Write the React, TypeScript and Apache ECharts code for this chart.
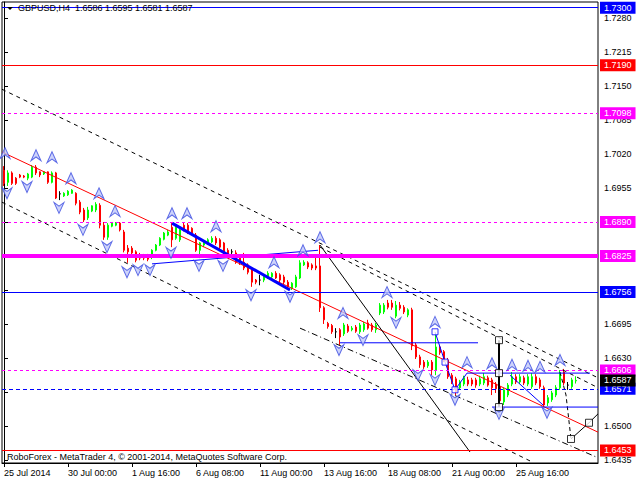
import { useEffect, useRef } from "react";
import * as echarts from "echarts";

// ---------- data ----------
const symbolName = "GBPUSD,H4";
const tickLabels = [
  "25 Jul 2014", "30 Jul 00:00", "1 Aug 16:00", "6 Aug 08:00", "11 Aug 00:00",
  "13 Aug 16:00", "18 Aug 08:00", "21 Aug 00:00", "25 Aug 16:00",
];
const barsPerTick = 16;
const totalSlots = 149;

const opens = [
  1.6989, 1.6966, 1.6984, 1.6974, 1.6980, 1.6978, 1.6974, 1.6976, 1.6995, 1.6986,
  1.6982, 1.6986, 1.6966, 1.6984, 1.6944, 1.6940, 1.6942, 1.6945, 1.6945, 1.6928,
  1.6913, 1.6898, 1.6911, 1.6913, 1.6922, 1.6884, 1.6861, 1.6882, 1.6884, 1.6888,
  1.6871, 1.6840, 1.6840, 1.6833, 1.6827, 1.6827, 1.6827, 1.6823, 1.6836, 1.6846,
  1.6857, 1.6865, 1.6880, 1.6859, 1.6856, 1.6884, 1.6884, 1.6878, 1.6865, 1.6836,
  1.6846, 1.6850, 1.6852, 1.6859, 1.6856, 1.6850, 1.6836, 1.6833, 1.6831, 1.6821,
  1.6813, 1.6808, 1.6802, 1.6779, 1.6779, 1.6779, 1.6783, 1.6785, 1.6792, 1.6789,
  1.6785, 1.6775, 1.6764, 1.6766, 1.6783, 1.6808, 1.6812, 1.6808, 1.6806, 1.6806,
  1.6726, 1.6696, 1.6692, 1.6680, 1.6684, 1.6676, 1.6691, 1.6684, 1.6689, 1.6680,
  1.6684, 1.6697, 1.6693, 1.6684, 1.6716, 1.6718, 1.6735, 1.6735, 1.6710, 1.6731,
  1.6727, 1.6712, 1.6722, 1.6655, 1.6632, 1.6622, 1.6615, 1.6622, 1.6607, 1.6651,
  1.6642, 1.6626, 1.6597, 1.6590, 1.6573, 1.6580, 1.6588, 1.6588, 1.6588, 1.6580,
  1.6582, 1.6592, 1.6588, 1.6580, 1.6575, 1.6546, 1.6559, 1.6580, 1.6594, 1.6584,
  1.6592, 1.6580, 1.6575, 1.6594, 1.6588, 1.6573, 1.6544, 1.6550, 1.6559, 1.6573,
  1.6603, 1.6578, 1.6575, 1.6586,
];
const closes = [
  1.6964, 1.6984, 1.6964, 1.6964, 1.6976, 1.6976, 1.6982, 1.6995, 1.6984, 1.6980,
  1.6986, 1.6966, 1.6984, 1.6936, 1.6944, 1.6945, 1.6949, 1.6951, 1.6926, 1.6909,
  1.6894, 1.6913, 1.6921, 1.6924, 1.6884, 1.6861, 1.6884, 1.6888, 1.6888, 1.6875,
  1.6836, 1.6833, 1.6831, 1.6817, 1.6821, 1.6821, 1.6819, 1.6836, 1.6846, 1.6859,
  1.6869, 1.6871, 1.6856, 1.6880, 1.6875, 1.6875, 1.6871, 1.6869, 1.6836, 1.6850,
  1.6852, 1.6856, 1.6859, 1.6850, 1.6842, 1.6833, 1.6829, 1.6833, 1.6813, 1.6813,
  1.6802, 1.6794, 1.6775, 1.6775, 1.6779, 1.6785, 1.6792, 1.6792, 1.6783, 1.6779,
  1.6775, 1.6766, 1.6773, 1.6785, 1.6812, 1.6813, 1.6804, 1.6802, 1.6802, 1.6726,
  1.6703, 1.6690, 1.6680, 1.6680, 1.6670, 1.6693, 1.6681, 1.6687, 1.6681, 1.6693,
  1.6695, 1.6687, 1.6684, 1.6693, 1.6731, 1.6731, 1.6727, 1.6727, 1.6731, 1.6725,
  1.6718, 1.6722, 1.6653, 1.6632, 1.6617, 1.6613, 1.6622, 1.6607, 1.6651, 1.6640,
  1.6626, 1.6594, 1.6584, 1.6565, 1.6584, 1.6592, 1.6580, 1.6580, 1.6578, 1.6590,
  1.6594, 1.6578, 1.6573, 1.6571, 1.6548, 1.6569, 1.6578, 1.6594, 1.6584, 1.6594,
  1.6582, 1.6594, 1.6594, 1.6582, 1.6575, 1.6540, 1.6554, 1.6563, 1.6573, 1.6601,
  1.6582, 1.6578, 1.6588, 1.6587,
];
const lows = [
  1.6959, 1.6959, 1.6961, 1.6961, 1.6974, 1.6974, 1.6970, 1.6974, 1.6980, 1.6976,
  1.6980, 1.6963, 1.6964, 1.6934, 1.6932, 1.6938, 1.6940, 1.6944, 1.6922, 1.6905,
  1.6890, 1.6894, 1.6909, 1.6909, 1.6878, 1.6856, 1.6856, 1.6880, 1.6882, 1.6872,
  1.6832, 1.6812, 1.6827, 1.6813, 1.6817, 1.6817, 1.6815, 1.6819, 1.6834, 1.6844,
  1.6855, 1.6863, 1.6842, 1.6856, 1.6852, 1.6872, 1.6867, 1.6865, 1.6833, 1.6821,
  1.6842, 1.6846, 1.6850, 1.6846, 1.6838, 1.6829, 1.6825, 1.6827, 1.6810, 1.6808,
  1.6798, 1.6790, 1.6766, 1.6771, 1.6769, 1.6775, 1.6781, 1.6783, 1.6781, 1.6775,
  1.6771, 1.6762, 1.6760, 1.6764, 1.6781, 1.6806, 1.6800, 1.6798, 1.6798, 1.6718,
  1.6695, 1.6686, 1.6676, 1.6668, 1.6655, 1.6672, 1.6678, 1.6681, 1.6678, 1.6676,
  1.6680, 1.6684, 1.6680, 1.6678, 1.6712, 1.6714, 1.6723, 1.6722, 1.6706, 1.6721,
  1.6714, 1.6708, 1.6645, 1.6628, 1.6611, 1.6609, 1.6611, 1.6597, 1.6597, 1.6636,
  1.6622, 1.6590, 1.6580, 1.6559, 1.6569, 1.6576, 1.6576, 1.6576, 1.6573, 1.6576,
  1.6578, 1.6575, 1.6559, 1.6563, 1.6538, 1.6540, 1.6555, 1.6576, 1.6580, 1.6580,
  1.6578, 1.6576, 1.6571, 1.6578, 1.6571, 1.6536, 1.6538, 1.6546, 1.6555, 1.6569,
  1.6578, 1.6569, 1.6571, 1.6581,
];
const highs = [
  1.6997, 1.6989, 1.6987, 1.6976, 1.6982, 1.6980, 1.6984, 1.6999, 1.6999, 1.6987,
  1.6987, 1.6987, 1.6987, 1.6986, 1.6949, 1.6947, 1.6951, 1.6953, 1.6947, 1.6932,
  1.6917, 1.6919, 1.6922, 1.6928, 1.6926, 1.6890, 1.6888, 1.6890, 1.6890, 1.6890,
  1.6875, 1.6846, 1.6844, 1.6836, 1.6831, 1.6829, 1.6829, 1.6838, 1.6848, 1.6861,
  1.6871, 1.6875, 1.6888, 1.6886, 1.6878, 1.6890, 1.6888, 1.6880, 1.6869, 1.6852,
  1.6855, 1.6859, 1.6863, 1.6863, 1.6859, 1.6852, 1.6840, 1.6838, 1.6836, 1.6827,
  1.6831, 1.6811, 1.6804, 1.6781, 1.6789, 1.6788, 1.6796, 1.6794, 1.6796, 1.6792,
  1.6789, 1.6779, 1.6775, 1.6789, 1.6817, 1.6817, 1.6815, 1.6811, 1.6827, 1.6846,
  1.6729, 1.6699, 1.6695, 1.6687, 1.6687, 1.6697, 1.6695, 1.6691, 1.6693, 1.6697,
  1.6699, 1.6703, 1.6697, 1.6697, 1.6735, 1.6735, 1.6741, 1.6741, 1.6739, 1.6737,
  1.6731, 1.6725, 1.6726, 1.6659, 1.6636, 1.6626, 1.6626, 1.6626, 1.6678, 1.6655,
  1.6645, 1.6630, 1.6601, 1.6594, 1.6588, 1.6596, 1.6594, 1.6592, 1.6592, 1.6596,
  1.6601, 1.6596, 1.6592, 1.6584, 1.6577, 1.6573, 1.6582, 1.6603, 1.6599, 1.6599,
  1.6596, 1.6599, 1.6601, 1.6599, 1.6592, 1.6577, 1.6559, 1.6567, 1.6578, 1.6607,
  1.6609, 1.6584, 1.6592, 1.6595,
];

// axis ticks every 0.0065; labels only where no price box covers them
const priceTicks = [
  1.6435, 1.6500, 1.6565, 1.6630, 1.6695, 1.6760, 1.6825,
  1.6890, 1.6955, 1.7020, 1.7085, 1.7150, 1.7215, 1.7280,
];
const priceTickLabels = [
  1.6435, 1.6500, 1.6630, 1.6695, 1.6955, 1.7020, 1.7085, 1.7150, 1.7215, 1.7280,
];
const priceMin = 1.6429;
const priceMax = 1.7311;

// horizontal levels (full width)
const levelPrices = [1.7300, 1.7190, 1.7098, 1.6890, 1.6825, 1.6756, 1.6606, 1.6571, 1.6453];
const levelKinds = ["blue", "red", "magentaDash", "magentaDash", "magentaThick", "blue", "magentaDash", "blueDash", "red"];

// trend lines: [barIndex, price]
const redTrend = [[-0.5, 1.7024], [148.5, 1.6488]];
const upperChannel = [[-0.5, 1.7144], [148.5, 1.6592]];
const peakChannel = [[79, 1.6842], [148.5, 1.6573]];
const lowerChannel = [[-0.5, 1.6928], [131.5, 1.6433]];
const dashDotChannel = [[74, 1.6687], [148.5, 1.6439]];
const steepLine = [[79, 1.6846], [116.5, 1.6450]];
const forecastDashed = [[139, 1.6603], [140.5, 1.6559], [141.75, 1.6475]];
const forecastSolid = [[141.75, 1.6475], [146.25, 1.6506], [148.5, 1.6523]];
const measureLine = [[123.75, 1.6664], [123.75, 1.6536]];
const blueSeg1 = [[84, 1.6659], [118.5, 1.6659]];
const rangeTop = [[115.75, 1.6601], [146.5, 1.6601]];
const rangeBottom = [[122, 1.6536], [148.5, 1.6536]];
const blueZig1 = [[107.75, 1.6680], [110.25, 1.6622], [112.75, 1.6569], [115.75, 1.6601]];
const blueZig2 = [[126.5, 1.6597], [134.75, 1.6540]];
const blueThick = [[42, 1.6888], [71.5, 1.6760]];
const blueThin = [[37, 1.6810], [78.5, 1.6836]];

const blueSquares = [[107.75, 1.6680], [110.25, 1.6622], [112.75, 1.6569]];
const blackSquares = [[123.75, 1.6664], [123.75, 1.6601], [123.75, 1.6536], [141.75, 1.6475], [146.25, 1.6506]];

const upFractals = [
  [0.25, 1.7022], [8, 1.7018], [12, 1.7014], [16.75, 1.6974], [23.75, 1.6945],
  [27.75, 1.6911], [42, 1.6907], [45.75, 1.6907], [53, 1.6882], [67.5, 1.6813],
  [74.75, 1.6836], [79, 1.6861], [84.75, 1.6716], [95.75, 1.6756], [107.75, 1.6699],
  [115.75, 1.6622], [122, 1.6620], [127, 1.6617], [131, 1.6615], [134, 1.6613],
  [139, 1.6626],
];
const downFractals = [
  [0.75, 1.6945], [5.75, 1.6957], [13.75, 1.6917], [19.75, 1.6875], [25.75, 1.6842],
  [30.75, 1.6794], [33.5, 1.6798], [36.5, 1.6798], [41.75, 1.6831], [48.75, 1.6806],
  [54.75, 1.6806], [61.75, 1.6750], [71.5, 1.6747], [83.75, 1.6645], [89.75, 1.6664],
  [98, 1.6697], [103.5, 1.6597], [107.75, 1.6588], [112.75, 1.6550], [123.75, 1.6523],
  [135.75, 1.6525],
];

const copyright = "RoboForex - MetaTrader 4, \u00a9 2001-2014, MetaQuotes Software Corp.";

// ---------- styles ----------
const FONT = "'Liberation Sans', Arial, sans-serif";
const FS = 9;
const BLUE = "#0000ff";
const RED = "#ff0000";
const MAGENTA = "#ff00ff";
const BULL = "#00ff00";
const BEAR = "#ff0000";

const kindStyle: Record<string, { color: string; type: any; width: number }> = {
  blue: { color: BLUE, type: "solid", width: 1 },
  red: { color: RED, type: "solid", width: 1 },
  magentaDash: { color: MAGENTA, type: [3, 3], width: 1 },
  magentaThick: { color: MAGENTA, type: "solid", width: 4 },
  blueDash: { color: BLUE, type: [4, 3], width: 1 },
};

function lineSeries(data: number[][], color: string, type: any, width: number, z = 3) {
  return {
    type: "line",
    xAxisIndex: 1,
    yAxisIndex: 0,
    data,
    symbol: "none",
    silent: true,
    clip: true,
    z,
    lineStyle: { color, type, width },
  };
}

export default function App() {
  const ref = useRef<HTMLDivElement>(null);

  useEffect(() => {
    if (!ref.current) return;
    const chart = echarts.init(ref.current, undefined, { renderer: "svg" });

    const slots = Array.from({ length: totalSlots }, (_, i) => String(i));
    const showTick = (idx: number) =>
      idx % barsPerTick === 0 && idx / barsPerTick < tickLabels.length;

    const candleData = opens.map((o, i) => {
      const item: any = { value: [o, closes[i], lows[i], highs[i]] };
      if (o === closes[i]) {
        item.itemStyle = { color: "#000", color0: "#000", borderColor: "#000", borderColor0: "#000" };
      }
      return item;
    });

    const last = opens.length - 1;
    const lastClose = closes[last];
    const titleText = `${symbolName}  ${opens[last].toFixed(4)} ${highs[last].toFixed(4)} ${lows[last].toFixed(4)} ${closes[last].toFixed(4)}`;

    const boxLabel = (bg: string, p: number) => ({
      show: true,
      position: "end",
      distance: 2,
      formatter: p.toFixed(4),
      color: "#fff",
      backgroundColor: bg,
      padding: [2, 4, 1, 4],
      fontSize: FS,
      fontFamily: FONT,
    });

    const markData: any[] = levelPrices.map((p, k) => {
      const st = kindStyle[levelKinds[k]];
      return {
        yAxis: p,
        lineStyle: { color: st.color, type: st.type, width: st.width },
        label: boxLabel(st.color, p),
      };
    });
    markData.push({
      yAxis: lastClose,
      lineStyle: { color: "rgba(0,0,0,0)", width: 0, type: "solid" },
      label: boxLabel("#000", lastClose),
    });

    const option: any = {
      animation: false,
      backgroundColor: "#fff",
      grid: {
        left: 2, right: 42, top: 2, bottom: 17,
        show: true, borderColor: "#000", borderWidth: 1, backgroundColor: "#fff",
      },
      xAxis: [
        {
          type: "category",
          data: slots,
          boundaryGap: true,
          axisLine: { show: true, lineStyle: { color: "#000" } },
          axisTick: {
            show: true, interval: showTick, alignWithLabel: true, length: 4,
            lineStyle: { color: "#000" },
          },
          axisLabel: {
            interval: showTick,
            formatter: (_v: string, idx: number) => tickLabels[idx / barsPerTick] ?? "",
            align: "left",
            margin: 5,
            color: "#000",
            fontSize: FS,
            fontFamily: FONT,
          },
          splitLine: { show: false },
        },
        { type: "value", min: -0.5, max: totalSlots - 0.5, show: false },
      ],
      yAxis: [
        {
          type: "value",
          position: "right",
          min: priceMin,
          max: priceMax,
          splitLine: { show: false },
          axisLine: { show: true, lineStyle: { color: "#000" } },
          axisTick: { show: true, length: 4, customValues: priceTicks, lineStyle: { color: "#000" } },
          axisLabel: {
            customValues: priceTickLabels,
            formatter: (v: number) => v.toFixed(4),
            color: "#000",
            margin: 6,
            fontSize: FS,
            fontFamily: FONT,
          },
        },
      ],
      series: [
        {
          type: "candlestick",
          xAxisIndex: 0,
          yAxisIndex: 0,
          barWidth: 2,
          data: candleData,
          z: 2,
          itemStyle: {
            color: BULL, color0: BEAR, borderColor: BULL, borderColor0: BEAR, borderWidth: 1,
          },
          markLine: {
            silent: true,
            precision: 4,
            symbol: ["none", "none"],
            animation: false,
            data: markData,
          },
        },
        lineSeries(redTrend, RED, "solid", 1),
        lineSeries(upperChannel, "#000", [4, 4], 1),
        lineSeries(peakChannel, "#000", [4, 4], 1),
        lineSeries(lowerChannel, "#000", [4, 4], 1),
        lineSeries(dashDotChannel, "#000", [6, 3, 1, 3], 1),
        lineSeries(steepLine, "#000", "solid", 1),
        lineSeries(forecastDashed, "#000", [4, 3], 1),
        lineSeries(forecastSolid, "#000", "solid", 1),
        lineSeries(measureLine, "#000", "solid", 2),
        lineSeries(blueSeg1, BLUE, "solid", 1),
        lineSeries(rangeTop, BLUE, "solid", 1),
        lineSeries(rangeBottom, BLUE, "solid", 1),
        lineSeries(blueZig1, BLUE, "solid", 1),
        lineSeries(blueZig2, BLUE, "solid", 1),
        lineSeries(blueThick, BLUE, "solid", 3),
        lineSeries(blueThin, BLUE, "solid", 1),
        {
          type: "scatter",
          xAxisIndex: 1,
          data: upFractals,
          symbol: "path://M6,0L12,12L6,8L0,12Z",
          symbolSize: [10, 11],
          silent: true,
          z: 6,
          itemStyle: { color: "#c0c8fa", borderColor: "#3a4ae0", borderWidth: 1 },
        },
        {
          type: "scatter",
          xAxisIndex: 1,
          data: downFractals,
          symbol: "path://M0,0L6,4L12,0L6,12Z",
          symbolSize: [10, 11],
          silent: true,
          z: 6,
          itemStyle: { color: "#c0c8fa", borderColor: "#3a4ae0", borderWidth: 1 },
        },
        {
          type: "scatter",
          xAxisIndex: 1,
          data: blueSquares,
          symbol: "rect",
          symbolSize: 6,
          silent: true,
          z: 7,
          itemStyle: { color: "#fff", borderColor: BLUE, borderWidth: 1 },
        },
        {
          type: "scatter",
          xAxisIndex: 1,
          data: blackSquares,
          symbol: "rect",
          symbolSize: 7,
          silent: true,
          z: 7,
          itemStyle: { color: "#fff", borderColor: "#000", borderWidth: 1 },
        },
      ],
      graphic: [
        {
          type: "polygon",
          z: 100,
          shape: { points: [[7, 7], [13, 7], [10, 10]] },
          style: { fill: "#000" },
        },
        {
          type: "text",
          x: 18,
          y: 3,
          z: 100,
          style: { text: titleText, fill: "#000", font: `${FS}px ${FONT}` },
        },
        {
          type: "text",
          x: 7,
          y: 452,
          z: 100,
          style: { text: copyright, fill: "#000", font: `${FS}px ${FONT}` },
        },
      ],
    };

    chart.setOption(option);
    return () => chart.dispose();
  }, []);

  return (
    <div
      ref={ref}
      style={{ position: "fixed", left: 0, top: 0, width: 640, height: 480, background: "#fff" }}
    />
  );
}
